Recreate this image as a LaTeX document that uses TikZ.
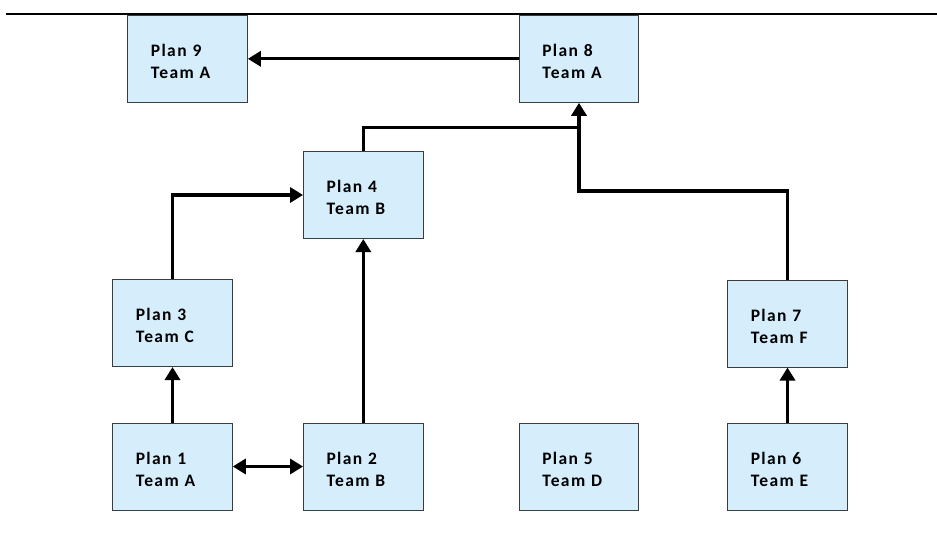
\documentclass[tikz,border=0pt]{standalone}
\usepackage{fontspec}
\newfontfamily\boxfont{Carlito}[LetterSpace=8]
\usetikzlibrary{arrows.meta}
\definecolor{boxfill}{RGB}{214,237,252}
\definecolor{boxline}{RGB}{60,60,60}
\tikzset{
  planbox/.style={draw=boxline, line width=1pt, fill=boxfill, rectangle,
    minimum width=119.5pt, minimum height=87pt, inner xsep=23pt, inner ysep=0pt,
    text width=73.5pt, align=left, text height=10pt, text depth=14.4pt,
    font=\boxfont\bfseries\fontsize{17.5}{22}\selectfont},
  conn/.style={line width=3.3pt, draw=black},
  tip/.style={-{Triangle[length=13pt,width=15pt]}},
  tips/.style={{Triangle[length=13pt,width=15pt]}-{Triangle[length=13pt,width=15pt]}}
}
\begin{document}
\begin{tikzpicture}[x=1pt,y=-1pt]
\useasboundingbox (0,0) rectangle (937,540);
\coordinate (tl) at (6,14);
\coordinate (tr) at (937,14);
\draw[line width=2.5pt] (tl) -- (tr);
\node[planbox] (p9) at (187.6,58.8) {Plan 9\\Team A};
\node[planbox] (p8) at (579,58.8) {Plan 8\\Team A};
\node[planbox] (p4) at (363.3,195) {Plan 4\\Team B};
\node[planbox] (p3) at (172.5,323) {Plan 3\\Team C};
\node[planbox] (p1) at (172.5,466.5) {Plan 1\\Team A};
\node[planbox] (p2) at (363.3,466.5) {Plan 2\\Team B};
\node[planbox] (p5) at (579,466.5) {Plan 5\\Team D};
\node[planbox] (p7) at (787.5,323.5) {Plan 7\\Team F};
\node[planbox] (p6) at (787.5,466.5) {Plan 6\\Team E};
\coordinate (j1) at (579,127.3);
\coordinate (j2) at (579,191);
\draw[conn,tip] (p8.west) -- (p9.east);
\draw[conn,tip] (p1.north) -- (p3.south);
\draw[conn,tip] (p3.north) |- (p4.west);
\draw[conn,tip] (p2.north) -- (p4.south);
\draw[conn,tips] (p1.east) -- (p2.west);
\draw[conn,tip] (p6.north) -- (p7.south);
\draw[conn] (p4.north) |- (j1);
\draw[conn] (p7.north) |- (j2) -- (j1);
\draw[conn,tip] (j1) -- (p8.south);
\end{tikzpicture}
\end{document}
